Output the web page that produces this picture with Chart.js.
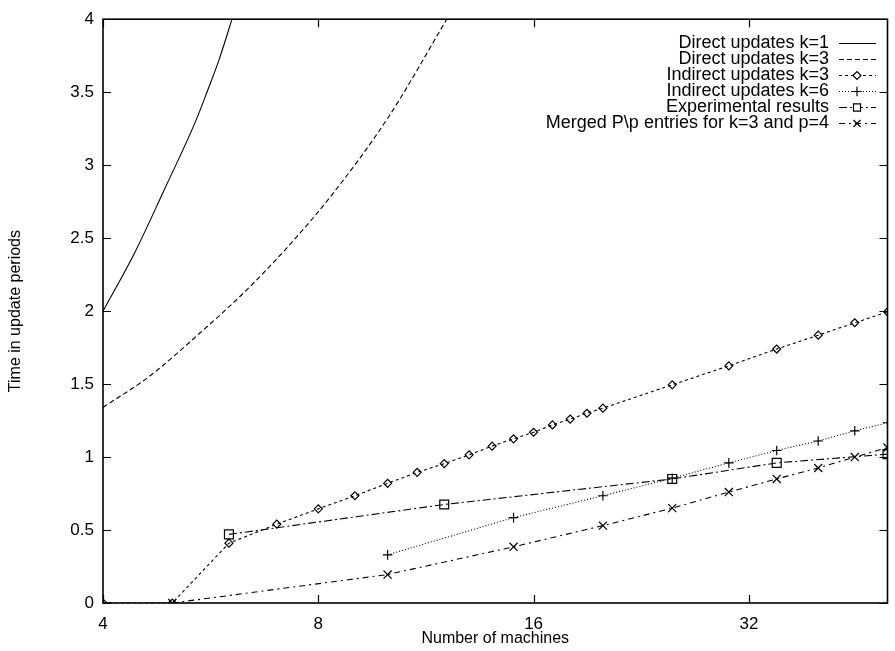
<!DOCTYPE html>
<html><head><meta charset="utf-8">
<script src="https://cdn.jsdelivr.net/npm/chart.js@4.4.0/dist/chart.umd.min.js"></script>
<style>html,body{margin:0;padding:0;background:#fff}canvas{display:block}</style>
</head><body><canvas id="c" width="895" height="651"></canvas>
<script>
// ---- data ----
const xTicks = [4, 8, 16, 32];
const yTickValues = [0, 0.5, 1, 1.5, 2, 2.5, 3, 3.5, 4];
const seriesNames = [
  'Direct updates k=1',
  'Direct updates k=3',
  'Indirect updates k=3',
  'Indirect updates k=6',
  'Experimental results',
  'Merged P\\p entries for k=3 and p=4'
];
const directK1X = [4, 4.43, 4.86, 5.4, 5.61, 5.81, 6.06];
const directK1Y = [2.0, 2.4, 2.82, 3.31, 3.52, 3.72, 4.0];
const directK3X = [4, 4.65, 5.46, 6.34, 7.25, 8.37, 10.05, 12.1];
const directK3Y = [1.34, 1.555, 1.848, 2.141, 2.44, 2.80, 3.337, 4.0];
const indirectK3X = [4, 5, 6, 7, 8, 9, 10, 11, 12, 13, 14, 15, 16, 17, 18, 19, 20, 25, 30, 35, 40, 45, 50];
const indirectK3Y = [0, 0, 0.41, 0.54, 0.645, 0.735, 0.82, 0.895, 0.955, 1.015, 1.075, 1.125, 1.17, 1.22, 1.26, 1.30, 1.335, 1.495, 1.625, 1.74, 1.835, 1.92, 1.995];
const indirectK6X = [10, 15, 20, 25, 30, 35, 40, 45, 50];
const indirectK6Y = [0.33, 0.585, 0.735, 0.855, 0.96, 1.045, 1.11, 1.18, 1.235];
const experimentalX = [6, 12, 25, 35, 50];
const experimentalY = [0.47, 0.675, 0.85, 0.96, 1.02];
const mergedX = [5, 10, 15, 20, 25, 30, 35, 40, 45, 50];
const mergedY = [0, 0.195, 0.385, 0.53, 0.65, 0.76, 0.85, 0.925, 1.0, 1.065];

const pts = (xs, ys) => xs.map((x, i) => ({x: x, y: ys[i]}));
const FONT = '"Liberation Sans", Arial, Helvetica, sans-serif';
const FS = 17;
const LEGEND_FS = 18;

const base = {borderColor: '#000', backgroundColor: 'rgba(0,0,0,0)', borderWidth: 1.1,
  pointBorderColor: '#000', pointBackgroundColor: 'rgba(0,0,0,0)', pointBorderWidth: 1.2, fill: false};

const datasets = [
  Object.assign({}, base, {label: seriesNames[0], data: pts(directK1X, directK1Y), pointRadius: 0, borderDash: [], cubicInterpolationMode: 'monotone'}),
  Object.assign({}, base, {label: seriesNames[1], data: pts(directK3X, directK3Y), pointRadius: 0, borderDash: [5, 3], cubicInterpolationMode: 'monotone'}),
  Object.assign({}, base, {label: seriesNames[2], data: pts(indirectK3X, indirectK3Y), pointStyle: 'rectRot', pointRadius: 4, borderDash: [3, 3]}),
  Object.assign({}, base, {label: seriesNames[3], data: pts(indirectK6X, indirectK6Y), pointStyle: 'cross', pointRadius: 4.8, borderDash: [1, 2]}),
  Object.assign({}, base, {label: seriesNames[4], data: pts(experimentalX, experimentalY), pointStyle: 'rect', pointRadius: 6.3, borderDash: [8, 3, 2, 3]}),
  Object.assign({}, base, {label: seriesNames[5], data: pts(mergedX, mergedY), pointStyle: 'crossRot', pointRadius: 5.7, borderDash: [6, 4, 2, 4]})
];

const framePlugin = {
  id: 'frame',
  beforeDatasetsDraw(chart) {
    const {ctx, chartArea: {left, right, top, bottom}, scales: {x, y}} = chart;
    ctx.save();
    ctx.strokeStyle = '#000';
    ctx.setLineDash([]);
    ctx.lineWidth = 1.6;
    ctx.strokeRect(left, top, right - left, bottom - top);
    ctx.lineWidth = 1.2;
    const tl = 8;
    ctx.beginPath();
    xTicks.forEach(v => {
      const px = Math.round(x.getPixelForValue(v)) + 0.5;
      ctx.moveTo(px, bottom); ctx.lineTo(px, bottom - tl);
      ctx.moveTo(px, top); ctx.lineTo(px, top + tl);
    });
    yTickValues.forEach(v => {
      const py = Math.round(y.getPixelForValue(v)) + 0.5;
      ctx.moveTo(left, py); ctx.lineTo(left + tl, py);
      ctx.moveTo(right, py); ctx.lineTo(right - tl, py);
    });
    ctx.stroke();
    ctx.restore();
  }
};

const legendPlugin = {
  id: 'keyLegend',
  afterDatasetsDraw(chart) {
    const ctx = chart.ctx;
    ctx.save();
    ctx.font = LEGEND_FS + 'px ' + FONT;
    ctx.textAlign = 'right';
    ctx.textBaseline = 'middle';
    chart.data.datasets.forEach((ds, i) => {
      const yy = 43 + 16 * i;
      ctx.fillStyle = '#000';
      ctx.fillText(ds.label, 829, yy);
      ctx.strokeStyle = '#000';
      ctx.lineWidth = ds.borderWidth;
      ctx.setLineDash(ds.borderDash || []);
      ctx.beginPath();
      ctx.moveTo(839, yy + 0.5); ctx.lineTo(876, yy + 0.5);
      ctx.stroke();
      ctx.setLineDash([]);
      if (ds.pointRadius > 0) {
        ctx.lineWidth = ds.pointBorderWidth;
        ctx.fillStyle = '#fff';
        Chart.helpers.drawPoint(ctx, {pointStyle: ds.pointStyle, radius: Math.min(ds.pointRadius, 5), borderWidth: ds.pointBorderWidth, rotation: 0}, 857, yy + 0.5);
      }
    });
    ctx.restore();
  }
};

new Chart(document.getElementById('c'), {
  type: 'line',
  data: {datasets: datasets},
  options: {
    responsive: false,
    animation: false,
    devicePixelRatio: 1,
    layout: {padding: {top: 12, right: 5, left: 0, bottom: 0}},
    plugins: {legend: {display: false}, tooltip: {enabled: false}},
    elements: {line: {tension: 0}},
    scales: {
      x: {
        type: 'logarithmic', min: 4, max: 50,
        grid: {display: false, drawTicks: false},
        border: {display: false},
        afterBuildTicks: s => { s.ticks = xTicks.map(v => ({value: v})); },
        afterFit: s => { s.height = 48; },
        ticks: {autoSkip: false, maxRotation: 0, padding: 11, color: '#000', font: {family: FONT, size: FS},
          callback: v => String(v)},
        title: {display: true, text: 'Number of machines', color: '#000', font: {family: FONT, size: 16}, padding: {top: 0, bottom: 3}}
      },
      y: {
        type: 'linear', min: 0, max: 4,
        grid: {display: false, drawTicks: false},
        border: {display: false},
        afterBuildTicks: s => { s.ticks = yTickValues.map(v => ({value: v})); },
        afterFit: s => { s.width = 103; },
        ticks: {autoSkip: false, padding: 9, color: '#000', font: {family: FONT, size: FS},
          callback: v => String(v)},
        title: {display: true, text: 'Time in update periods', color: '#000', font: {family: FONT, size: 16}, padding: {top: 6, bottom: 0}}
      }
    }
  },
  plugins: [framePlugin, legendPlugin]
});
</script></body></html>
